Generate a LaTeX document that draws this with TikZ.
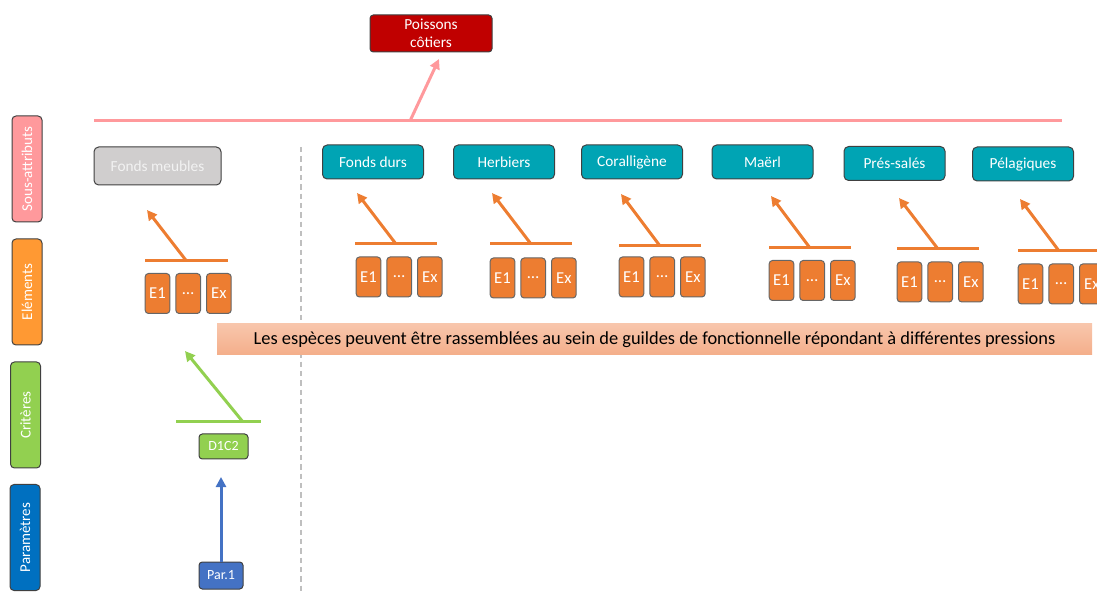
\documentclass[tikz,border=0pt]{standalone}
\usepackage{fontspec}
\setmainfont{Carlito}
\usepackage{xcolor}
\usepackage{tikz}
\usetikzlibrary{arrows.meta, positioning, calc}
\definecolor{pinkattr}{HTML}{FF999C}
\definecolor{orangeel}{HTML}{FF9933}
\definecolor{greencr}{HTML}{92D050}
\definecolor{bluepar}{HTML}{0070C0}
\definecolor{redtop}{HTML}{C00000}
\definecolor{greyhab}{HTML}{D0CECE}
\definecolor{tealhab}{HTML}{00A4B4}
\definecolor{orangebox}{HTML}{ED7D31}
\definecolor{bluearr}{HTML}{4472C4}
\definecolor{bordergrey}{HTML}{404040}
\definecolor{bannertop}{HTML}{F8C6AC}
\definecolor{bannerbot}{HTML}{F4AE8A}
\tikzset{
    sidelabel/.style={
        rectangle,
        rounded corners=3pt,
        draw=bordergrey,
        line width=0.75pt,
        rotate=90,
        minimum width=79.5pt,
        minimum height=22.5pt,
        text=white,
        font=\fontsize{11.25}{13}\selectfont
    },
    habitat/.style={
        rectangle,
        rounded corners=3.5pt,
        draw=bordergrey,
        line width=0.75pt,
        fill=tealhab,
        minimum width=75.75pt,
        minimum height=25.5pt,
        text=white,
        font=\fontsize{11.5}{13}\selectfont
    },
    elem/.style={
        rectangle,
        rounded corners=2.5pt,
        draw=bordergrey!80,
        line width=0.75pt,
        fill=orangebox,
        minimum width=18.5pt,
        minimum height=30pt,
        inner sep=0pt,
        text=white,
        font=\fontsize{12.5}{14}\selectfont
    },
    smallbox/.style={
        rectangle,
        rounded corners=2.5pt,
        draw=bordergrey,
        line width=0.75pt,
        inner sep=0pt,
        text=white,
        font=\fontsize{10.5}{12}\selectfont
    },
    obar/.style={
        draw=orangebox,
        line width=2.25pt
    },
    oarrow/.style={
        draw=orangebox,
        line width=2.25pt,
        -{Triangle[length=7.5pt,width=7.5pt]}
    }
}

\begin{document}
\begin{tikzpicture}[x=0.75pt, y=-0.75pt]
\useasboundingbox (0,0) rectangle (1097,595);

% Side labels
\node[sidelabel, fill=pinkattr] (sattr) at (27,169) {Sous-attributs};
\node[sidelabel, fill=orangeel] (elts) at (27,292) {Eléments};
\node[sidelabel, fill=greencr] (crit) at (25.5,415) {Critères};
\node[sidelabel, fill=bluepar] (param) at (25,537.5) {Paramètres};

% Top level
\node[smallbox, fill=redtop, minimum width=91.5pt, minimum height=27.75pt, align=center,
      font=\fontsize{11.5}{13.5}\selectfont] (poissons) at (431,33.5) {Poissons\\côtiers};
\coordinate (pinkL) at (94,121);
\coordinate (pinkR) at (1062,121);
\coordinate (pinkM) at (410,121);
\coordinate (pinkT) at (439,59);
\draw[draw=pinkattr, line width=2.25pt] (pinkL) -- (pinkR);
\draw[draw=pinkattr, line width=2.25pt, -{Triangle[length=7.5pt,width=7.5pt]}] (pinkM) -- (pinkT);

% Separator
\coordinate (sepT) at (301,147);
\coordinate (sepB) at (301,595);
\draw[draw=black!25, line width=1.2pt, dash pattern=on 4pt off 3pt] (sepT) -- (sepB);

% Sub-attributes
\node[habitat, fill=greyhab, text=white!95!black, minimum width=95.25pt, minimum height=28.5pt] (fmeub) at (157.5,166) {Fonds meubles};
\node[habitat] (fdurs) at (373,162) {Fonds durs};
\node[habitat] (herb) at (504,162) {Herbiers};
\node[habitat] (coral) at (632,162) {Coralligène};
\node[habitat] (maerl) at (762.5,162) {Maërl};
\node[habitat] (pres) at (894.5,163.5) {Prés-salés};
\node[habitat] (pelag) at (1023,164) {Pélagiques};

% Elements - Fonds meubles
\node[elem] (fmeub1) at (157.5,293.5) {E1};
\node[elem, right=3.75pt of fmeub1] (fmeub2) {…};
\node[elem, right=3.75pt of fmeub2] (fmeub3) {Ex};
\coordinate (fmeubL) at (145,261);
\coordinate (fmeubR) at (228,261);
\coordinate (fmeubA) at (147,210);
\draw[obar] (fmeubL) -- (fmeubR);
\draw[oarrow] ($(fmeubL)!0.5!(fmeubR)$) -- (fmeubA);

% Elements - Fonds durs
\node[elem] (fdurs1) at (368.5,277) {E1};
\node[elem, right=3.75pt of fdurs1] (fdurs2) {…};
\node[elem, right=3.75pt of fdurs2] (fdurs3) {Ex};
\coordinate (fdursL) at (355,244);
\coordinate (fdursR) at (437,244);
\coordinate (fdursA) at (357,193);
\draw[obar] (fdursL) -- (fdursR);
\draw[oarrow] ($(fdursL)!0.5!(fdursR)$) -- (fdursA);

% Elements - Herbiers
\node[elem] (herb1) at (502.5,278) {E1};
\node[elem, right=3.75pt of herb1] (herb2) {…};
\node[elem, right=3.75pt of herb2] (herb3) {Ex};
\coordinate (herbL) at (490,244);
\coordinate (herbR) at (572,244);
\coordinate (herbA) at (492,193);
\draw[obar] (herbL) -- (herbR);
\draw[oarrow] ($(herbL)!0.5!(herbR)$) -- (herbA);

% Elements - Coralligene
\node[elem] (coral1) at (631.5,277) {E1};
\node[elem, right=3.75pt of coral1] (coral2) {…};
\node[elem, right=3.75pt of coral2] (coral3) {Ex};
\coordinate (coralL) at (619,246);
\coordinate (coralR) at (701,246);
\coordinate (coralA) at (621,194);
\draw[obar] (coralL) -- (coralR);
\draw[oarrow] ($(coralL)!0.5!(coralR)$) -- (coralA);

% Elements - Maerl
\node[elem] (maerl1) at (781.5,280.5) {E1};
\node[elem, right=3.75pt of maerl1] (maerl2) {…};
\node[elem, right=3.75pt of maerl2] (maerl3) {Ex};
\coordinate (maerlL) at (769,248);
\coordinate (maerlR) at (851,248);
\coordinate (maerlA) at (771,196);
\draw[obar] (maerlL) -- (maerlR);
\draw[oarrow] ($(maerlL)!0.5!(maerlR)$) -- (maerlA);

% Elements - Pres-sales
\node[elem] (pres1) at (909.5,282) {E1};
\node[elem, right=3.75pt of pres1] (pres2) {…};
\node[elem, right=3.75pt of pres2] (pres3) {Ex};
\coordinate (presL) at (897,249);
\coordinate (presR) at (979,249);
\coordinate (presA) at (899,198);
\draw[obar] (presL) -- (presR);
\draw[oarrow] ($(presL)!0.5!(presR)$) -- (presA);

% Elements - Pelagiques (cut at the right edge)
\node[elem] (pelag1) at (1030.5,284) {E1};
\node[elem, right=3.75pt of pelag1] (pelag2) {…};
\node[elem, right=3.75pt of pelag2] (pelag3) {Ex};
\coordinate (pelagL) at (1018,251);
\coordinate (pelagR) at (1100,251);
\coordinate (pelagA) at (1020,199);
\draw[obar] (pelagL) -- (pelagR);
\draw[oarrow] ($(pelagL)!0.5!(pelagR)$) -- (pelagA);

% Banner
\node[rectangle, top color=bannertop, bottom color=bannerbot, minimum width=656.25pt, minimum height=23.25pt,
      font=\fontsize{13.8}{15}\selectfont] (banner) at (654.5,339.5)
      {Les espèces peuvent être rassemblées au sein de guildes de fonctionnelle répondant à différentes pressions};

% Criteria
\node[smallbox, fill=greencr, minimum width=36.75pt, minimum height=18.75pt] (d1c2) at (223.5,446.5) {D1C2};
\coordinate (gbarL) at (176,422);
\coordinate (gbarR) at (261,422);
\coordinate (gbarS) at (243,422);
\coordinate (gbarA) at (185,351);
\draw[draw=greencr, line width=2.25pt] (gbarL) -- (gbarR);
\draw[draw=greencr, line width=2.25pt, -{Triangle[length=7.5pt,width=7.5pt]}] (gbarS) -- (gbarA);

% Parameters
\node[smallbox, fill=bluearr, minimum width=33pt, minimum height=20.25pt] (par1) at (221,575.5) {Par.1};
\coordinate (parA) at (221,477);
\draw[draw=bluearr, line width=2.25pt, -{Triangle[length=7.5pt,width=7.5pt]}] (par1.north) -- (parA);

\end{tikzpicture}
\end{document}
